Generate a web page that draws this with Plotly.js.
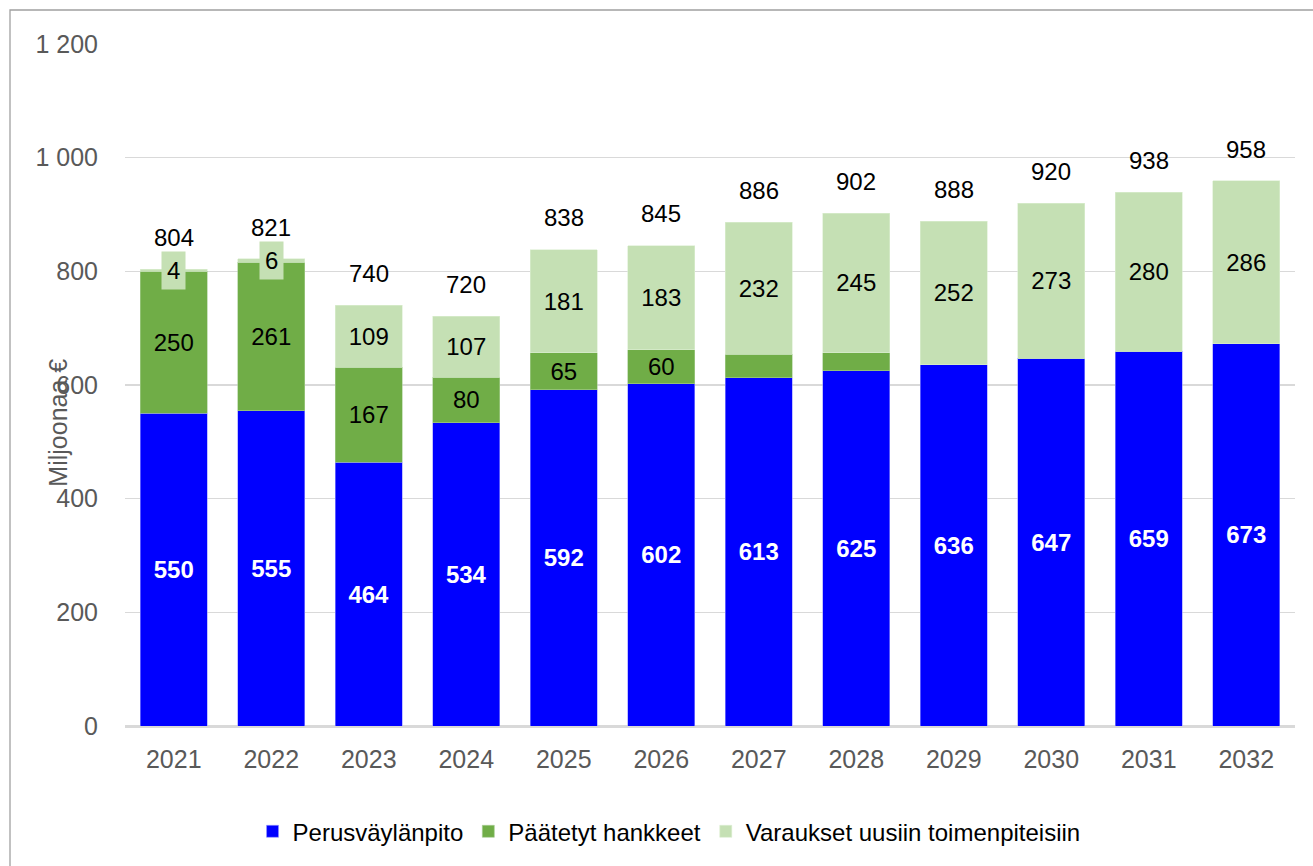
<!DOCTYPE html>
<html>
<head>
<meta charset="utf-8">
<script src="https://cdn.plot.ly/plotly-3.0.1.min.js"></script>
<style>html,body{margin:0;padding:0;background:#fff;}#chart{width:1313px;height:866px;}</style>
</head>
<body>
<div id="chart"></div>
<script>
var years = ['2021','2022','2023','2024','2025','2026','2027','2028','2029','2030','2031','2032'];
var perus = [550,555,464,534,592,602,613,625,636,647,659,673];
var paatetyt = [250,261,167,80,65,60,41,32,0,0,0,0];
var varaukset = [4,6,109,107,181,183,232,245,252,273,280,286];
var totals = [804,821,740,720,838,845,886,902,888,920,938,958];
var paatetytLabelled = [true,true,true,true,true,true,false,false,false,false,false,false];
var varauksetBoxed = [true,true,false,false,false,false,false,false,false,false,false,false];
var seriesNames = ['Perusväylänpito','Päätetyt hankkeet','Varaukset uusiin toimenpiteisiin'];
var colors = ['#0000FF','#70AD47','#C5E0B4'];
var yTitle = 'Miljoonaa €';

var font = 'Liberation Sans, Arial, sans-serif';

var traces = [
  {type:'bar', name:seriesNames[0], x:years, y:perus, marker:{color:colors[0], line:{color:'#9999ff', width:0.6}},
   text:perus.map(String), textposition:'inside', insidetextanchor:'middle', constraintext:'none',
   textfont:{family:font, size:24, color:'#FFFFFF', weight:'bold'}, hoverinfo:'y'},
  {type:'bar', name:seriesNames[1], x:years, y:paatetyt, marker:{color:colors[1], line:{color:'#a9cf95', width:0.6}},
   text:paatetyt.map(function(v,i){return paatetytLabelled[i]?String(v):'';}), textposition:'inside', insidetextanchor:'middle', constraintext:'none',
   textfont:{family:font, size:24, color:'#000000'}, hoverinfo:'y'},
  {type:'bar', name:seriesNames[2], x:years, y:varaukset, marker:{color:colors[2], line:{color:'#dcefd2', width:0.6}},
   text:varaukset.map(function(v,i){return varauksetBoxed[i]?'':String(v);}), textposition:'inside', insidetextanchor:'middle', constraintext:'none',
   textfont:{family:font, size:24, color:'#000000'}, hoverinfo:'y'}
];

var annotations = [];
years.forEach(function(yr,i){
  annotations.push({x:i, y:totals[i], xref:'x', yref:'y', text:String(totals[i]), showarrow:false,
    yanchor:'middle', yshift:32, font:{family:font, size:24, color:'#000000'}});
  if (varauksetBoxed[i]) {
    annotations.push({x:i, y:perus[i]+paatetyt[i]+varaukset[i]/2, xref:'x', yref:'y', text:String(varaukset[i]), showarrow:false,
      yanchor:'middle', bgcolor:colors[2], borderpad:5, font:{family:font, size:24, color:'#000000'}});
  }
});
annotations.push({xref:'paper', yref:'paper', x:-0.058, y:0.445, text:yTitle, textangle:-90, showarrow:false,
  xanchor:'center', yanchor:'middle', font:{family:font, size:25, color:'#595959'}});

var layout = {
  width:1313, height:866,
  margin:{l:125, r:18, t:44, b:140},
  barmode:'stack', bargap:0.31,
  paper_bgcolor:'#FFFFFF', plot_bgcolor:'#FFFFFF',
  separators:', ',
  font:{family:font, size:24, color:'#595959'},
  showlegend:true,
  legend:{orientation:'h', x:0.465, xanchor:'center', y:-0.155, yanchor:'middle', traceorder:'normal',
    font:{family:font, size:24, color:'#000000'}, itemwidth:30},
  xaxis:{type:'category', range:[-0.5, 11.5], showgrid:false, showline:true, linecolor:'#D9D9D9', linewidth:1.5,
    ticks:'', ticklabelstandoff:10, tickfont:{family:font, size:25, color:'#595959'}},
  yaxis:{range:[0,1200], dtick:200, tickformat:',d', showgrid:true, gridcolor:'#D9D9D9', gridwidth:1.3,
    zeroline:true, zerolinecolor:'#D9D9D9', zerolinewidth:1.5, ticks:'', ticklabelstandoff:26,
    tickfont:{family:font, size:25, color:'#595959'}},
  annotations:annotations,
  shapes:[{type:'rect', xref:'paper', yref:'paper', x0:(10-125)/1170, x1:1.1, y0:-0.3, y1:(726-10)/682,
    line:{color:'#A0A0A0', width:1.3}, fillcolor:'rgba(0,0,0,0)', layer:'below'}]
};

Plotly.newPlot('chart', traces, layout, {displayModeBar:false, staticPlot:true});
</script>
</body>
</html>
